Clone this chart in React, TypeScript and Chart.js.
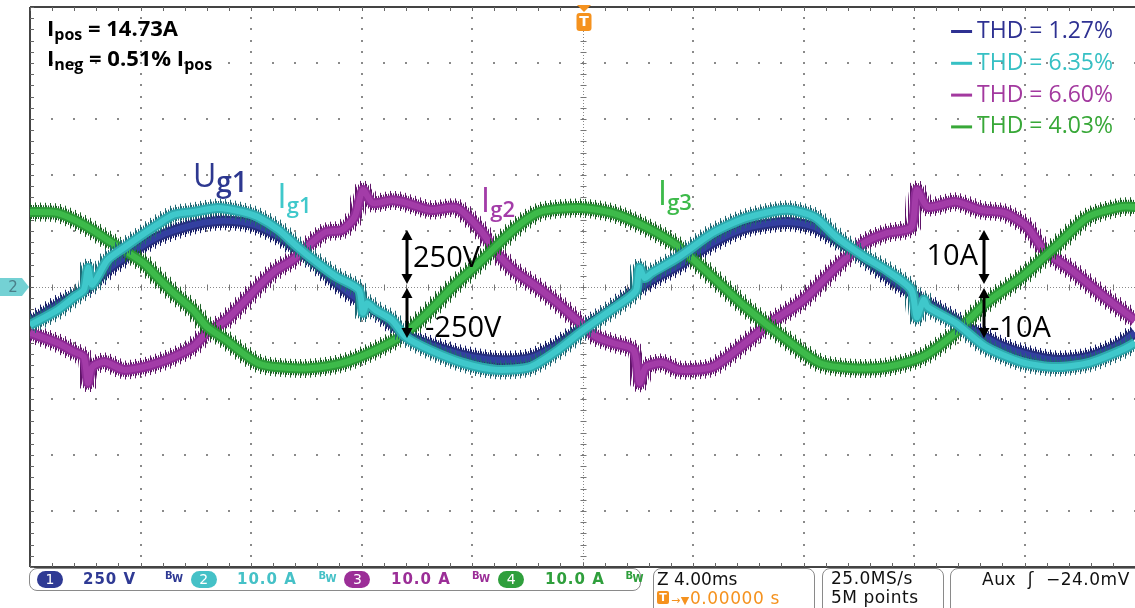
import React, { useEffect, useRef } from "react";
import { Chart, registerables } from "chart.js";

Chart.register(...registerables);

// ---- Oscilloscope settings ----
const msPerDiv = 4;
const timeStart = -20;
const timeEnd = 20;
const halfDivs = 5;

const ug1VoltsPerDiv = 250;
const ig1AmpsPerDiv = 10;
const ig2AmpsPerDiv = 10;
const ig3AmpsPerDiv = 10;

// ---- Ug1 : grid voltage (V) ----
const ug1Time = [-20, -19, -17.9, -17.2, -16.6, -15.4, -14.1, -13.2, -12.3, -11.75, -11.0, -10.3, -9.6, -8.9, -8.1, -7.3, -6.4, -5.5, -4.3, -3.1, -1.9, -0.9, -0.1, 0.9, 1.7, 2.5, 3.5, 4.7, 5.9, 7.4, 8.4, 9.2, 10.2, 11.0, 11.9, 12.9, 14.0, 15.1, 16.2, 17.25, 18.3, 19.4, 20];
const ug1Volts = [-160, -80, -4, 76, 129, 223, 277, 295, 290, 272, 228, 165, 98, 18, -58, -125, -214, -259, -304, -326, -317, -259, -192, -112, -36, 31, 98, 196, 263, 290, 268, 210, 129, 54, -27, -103, -183, -259, -304, -326, -312, -259, -205];

// ---- Ig1 : phase-1 current (A) ----
const ig1Time = [-20, -19, -18.4, -18.05, -17.9, -17.75, -17.2, -16.6, -15.4, -14.8, -14.1, -13.2, -12.3, -11.75, -11.0, -10.3, -9.6, -8.9, -8.1, -7.95, -7.8, -7.5, -6.9, -6.4, -5.5, -4.3, -3.1, -1.9, -0.9, -0.1, 0.9, 1.7, 1.95, 2.06, 2.25, 2.5, 3.5, 4.7, 5.9, 7.4, 8.4, 9.2, 10.2, 11.0, 11.9, 12.1, 12.35, 12.5, 13.5, 14.6, 15.9, 17.1, 18.3, 19.5, 20];
const ig1Amps = [-6.8, -4.1, -1.8, -0.5, 3.4, 0.4, 4.8, 7.0, 11.1, 12.9, 13.4, 14.1, 13.4, 12.5, 10.2, 7.1, 4.3, 1.8, -0.5, -4.6, -2.9, -4.1, -5.9, -8.9, -11.3, -13.6, -14.8, -14.3, -11.3, -8.2, -4.6, -1.8, -0.5, 3.4, 1.6, 2.5, 5.4, 9.6, 12.3, 13.8, 12.5, 8.9, 5.4, 3.0, -0.5, -5.4, -2.3, -3.6, -6.4, -10.7, -13.4, -14.3, -13.6, -11.3, -10.0];

// ---- Ig2 : phase-2 current (A) ----
const ig2Time = [-20, -19, -18.4, -18.05, -17.9, -17.75, -17.3, -16.6, -15.9, -15.4, -14.8, -14.1, -13.6, -12.9, -12.3, -11.75, -11.1, -10.5, -9.9, -9.3, -8.7, -8.25, -7.95, -7.6, -6.9, -6.5, -5.5, -4.55, -3.7, -3.1, -2.5, -1.65, -0.9, -0.1, 0.5, 1.1, 1.85, 2.06, 2.3, 2.9, 3.5, 4.7, 5.9, 6.8, 8.0, 9.2, 10.2, 11.0, 11.9, 12.1, 12.5, 13.5, 14.4, 15.3, 16.1, 16.7, 17.7, 18.9, 20];
const ig2Amps = [-8.2, -10.0, -11.6, -12.5, -17.1, -14.3, -13.4, -14.8, -14.3, -13.6, -12.5, -10.7, -8.2, -5.9, -2.9, 0, 3.0, 4.8, 7.5, 9.8, 10.2, 12.5, 17.3, 15.0, 15.5, 15.2, 13.75, 14.1, 10.2, 6.1, 3.0, 0, -2.9, -6.4, -8.9, -10.0, -11.3, -17.1, -14.3, -13.6, -14.8, -14.3, -10.0, -6.4, -2.3, 3.6, 7.9, 9.6, 10.7, 17.3, 14.3, 15.2, 13.75, 13.2, 10.7, 6.6, 3.0, -1.8, -5.9];

// ---- Ig3 : phase-3 current (A) ----
const ig3Time = [-20, -19, -18.4, -17.75, -17.2, -16.6, -15.9, -15.4, -14.8, -14.1, -13.6, -12.9, -12.3, -11.75, -11.1, -9.9, -8.7, -7.5, -6.4, -5.5, -4.7, -3.7, -2.5, -1.55, -0.1, 1.1, 2.3, 3.5, 4.7, 5.9, 7.4, 8.6, 9.8, 11.0, 12.3, 13.5, 14.6, 15.9, 17.1, 18.3, 19.5, 20];
const ig3Amps = [13.4, 13.2, 12.0, 10.2, 8.4, 6.6, 4.3, 1.8, -1.1, -4.1, -7.1, -9.5, -11.8, -13.6, -14.3, -14.5, -13.6, -11.3, -8.2, -4.1, 0, 4.5, 10.2, 13.4, 14.1, 13.2, 10.7, 7.1, 1.8, -3.6, -9.5, -13.6, -14.5, -14.3, -12.5, -8.2, -2.9, 1.8, 7.1, 12.5, 14.3, 14.3];

// ---- Text content ----
const thdLabels = ["THD = 1.27%", "THD = 6.35%", "THD = 6.60%", "THD = 4.03%"];
const thdColors = ["#2e3192", "#36c0c4", "#a3399f", "#38a838"];
const iposValue = "14.73A";
const inegValue = "0.51%";
const scaleArrowLabels = [["250V", "-250V"], ["10A", "-10A"]];
const scaleArrowTimes = [-6.35, 14.55];

const statusChannels = [
  { num: "1", scale: "250 V", color: "#2f3a94" },
  { num: "2", scale: "10.0 A", color: "#45c1c7" },
  { num: "3", scale: "10.0 A", color: "#9b2e97" },
  { num: "4", scale: "10.0 A", color: "#2f9f3c" },
];

const NAVY = "#2d3890";
const CYAN = "#3fc8cb";
const MAGENTA = "#a33ca8";
const GREEN = "#3dba4a";
const ORANGE = "#f5921e";

const FONT = "'Open Sans', 'DejaVu Sans', sans-serif";

type Run = { text: string; font: string; dy?: number };

function drawRuns(ctx: CanvasRenderingContext2D, x: number, y: number, runs: Run[], align: "left" | "right" = "left") {
  let w = 0;
  for (const r of runs) {
    ctx.font = r.font;
    w += ctx.measureText(r.text).width;
  }
  let cx = align === "right" ? x - w : x;
  ctx.textAlign = "left";
  for (const r of runs) {
    ctx.font = r.font;
    ctx.fillText(r.text, cx, y + (r.dy || 0));
    cx += ctx.measureText(r.text).width;
  }
  return w;
}

function drawDoubleArrow(ctx: CanvasRenderingContext2D, x: number, yTop: number, yBot: number) {
  const head = 10;
  const hw = 5.5;
  ctx.strokeStyle = "#000";
  ctx.fillStyle = "#000";
  ctx.lineWidth = 3;
  ctx.beginPath();
  ctx.moveTo(x, yTop + head - 1);
  ctx.lineTo(x, yBot - head + 1);
  ctx.stroke();
  ctx.beginPath();
  ctx.moveTo(x, yTop);
  ctx.lineTo(x - hw, yTop + head);
  ctx.lineTo(x + hw, yTop + head);
  ctx.closePath();
  ctx.fill();
  ctx.beginPath();
  ctx.moveTo(x, yBot);
  ctx.lineTo(x - hw, yBot - head);
  ctx.lineTo(x + hw, yBot - head);
  ctx.closePath();
  ctx.fill();
}

const scopePlugin = {
  id: "scopeGraticule",
  beforeDatasetsDraw(chart: any) {
    const ctx: CanvasRenderingContext2D = chart.ctx;
    const xs = chart.scales.x;
    const ys = chart.scales.y;
    const { left, right, top, bottom } = chart.chartArea;
    const xMinor = msPerDiv / 5;
    const yMinor = 0.2;
    ctx.save();
    ctx.fillStyle = "#8a8a8a";
    for (let t = timeStart + msPerDiv; t < timeEnd - 0.01; t += msPerDiv) {
      if (Math.abs(t) < 0.01) continue;
      const px = Math.round(xs.getPixelForValue(t));
      for (let v = -halfDivs; v <= halfDivs + 0.001; v += yMinor) {
        const py = Math.round(ys.getPixelForValue(v));
        ctx.fillRect(px - 1, py - 1, 2, 2);
      }
    }
    for (let d = -halfDivs + 1; d < halfDivs; d++) {
      if (d === 0) continue;
      const py = Math.round(ys.getPixelForValue(d));
      for (let t = timeStart; t <= timeEnd + 0.001; t += xMinor) {
        const px = Math.round(xs.getPixelForValue(t));
        ctx.fillRect(px - 1, py - 1, 2, 2);
      }
    }
    const cx = Math.round(xs.getPixelForValue(0)) + 0.5;
    const cy = Math.round(ys.getPixelForValue(0)) + 0.5;
    ctx.strokeStyle = "#8a8a8a";
    ctx.lineWidth = 1;
    ctx.setLineDash([1, 2]);
    ctx.beginPath();
    ctx.moveTo(left, cy);
    ctx.lineTo(right, cy);
    ctx.moveTo(cx, top);
    ctx.lineTo(cx, bottom);
    ctx.stroke();
    ctx.setLineDash([]);
    ctx.strokeStyle = "#777";
    ctx.beginPath();
    for (let t = timeStart; t <= timeEnd + 0.001; t += xMinor) {
      const px = Math.round(xs.getPixelForValue(t)) + 0.5;
      ctx.moveTo(px, cy - 3);
      ctx.lineTo(px, cy + 3);
    }
    for (let v = -halfDivs; v <= halfDivs + 0.001; v += yMinor) {
      const py = Math.round(ys.getPixelForValue(v)) + 0.5;
      ctx.moveTo(cx - 3, py);
      ctx.lineTo(cx + 3, py);
    }
    ctx.stroke();
    ctx.strokeStyle = "#444";
    ctx.lineWidth = 2;
    ctx.beginPath();
    ctx.moveTo(left, top);
    ctx.lineTo(right, top);
    ctx.moveTo(left, top);
    ctx.lineTo(left, bottom);
    ctx.moveTo(left, bottom);
    ctx.lineTo(right, bottom);
    ctx.stroke();
    ctx.lineWidth = 1;
    ctx.strokeStyle = "#666";
    ctx.beginPath();
    for (let t = timeStart; t <= timeEnd + 0.001; t += xMinor) {
      const px = Math.round(xs.getPixelForValue(t)) + 0.5;
      ctx.moveTo(px, top);
      ctx.lineTo(px, top + 4);
      ctx.moveTo(px, bottom);
      ctx.lineTo(px, bottom - 4);
    }
    for (let v = -halfDivs; v <= halfDivs + 0.001; v += yMinor) {
      const py = Math.round(ys.getPixelForValue(v)) + 0.5;
      ctx.moveTo(left, py);
      ctx.lineTo(left + 4, py);
    }
    ctx.stroke();
    ctx.restore();
  },
  afterDatasetsDraw(chart: any) {
    const ctx: CanvasRenderingContext2D = chart.ctx;
    const xs = chart.scales.x;
    const ys = chart.scales.y;
    const { left, top, right } = chart.chartArea;
    ctx.save();
    ctx.textBaseline = "alphabetic";

    scaleArrowTimes.forEach((t, i) => {
      const px = Math.round(xs.getPixelForValue(t));
      const y1 = ys.getPixelForValue(1);
      const y0 = ys.getPixelForValue(0);
      const ym = ys.getPixelForValue(-1);
      drawDoubleArrow(ctx, px, y1 - 1, y0 - 3);
      drawDoubleArrow(ctx, px, y0 + 1, ym - 5);
      ctx.fillStyle = "#000";
      ctx.font = `400 29px ${FONT}`;
      const [lblUp, lblDown] = scaleArrowLabels[i];
      if (i === 0) {
        ctx.fillText(lblUp, px + 6, y0 - 20);
      } else {
        ctx.textAlign = "right";
        ctx.fillText(lblUp, px - 6, y0 - 22);
        ctx.textAlign = "left";
      }
      ctx.fillText(lblDown, px + (i === 0 ? 18 : 6), ym - 6);
    });

    const traceLabels = [
      { main: "U", sub: "g1", t: -14.1, d: 1.79, color: NAVY, size: 32, subSize: 28 },
      { main: "I", sub: "g1", t: -11.05, d: 1.41, color: CYAN, size: 34, subSize: 22 },
      { main: "I", sub: "g2", t: -3.68, d: 1.34, color: MAGENTA, size: 34, subSize: 22 },
      { main: "I", sub: "g3", t: 2.72, d: 1.46, color: GREEN, size: 34, subSize: 22 },
    ];
    traceLabels.forEach((lb) => {
      ctx.fillStyle = lb.color;
      const x = xs.getPixelForValue(lb.t);
      const y = ys.getPixelForValue(lb.d);
      drawRuns(ctx, x, y, [
        { text: lb.main, font: `400 ${lb.size}px ${FONT}` },
        { text: lb.sub, font: `600 ${lb.subSize}px ${FONT}`, dy: 5 },
      ]);
    });

    ctx.fillStyle = "#000";
    const big = `700 22px ${FONT}`;
    const sml = `700 16px ${FONT}`;
    drawRuns(ctx, left + 17, top + 29, [
      { text: "I", font: big },
      { text: "pos", font: sml, dy: 4 },
      { text: " = " + iposValue, font: big },
    ]);
    drawRuns(ctx, left + 17, top + 59, [
      { text: "I", font: big },
      { text: "neg", font: sml, dy: 4 },
      { text: " = " + inegValue + " I", font: big },
      { text: "pos", font: sml, dy: 4 },
    ]);

    thdLabels.forEach((txt, i) => {
      const yb = top + 31 + i * 31.8;
      ctx.fillStyle = thdColors[i];
      ctx.font = `400 23px ${FONT}`;
      ctx.textAlign = "right";
      ctx.fillText(txt, right - 22, yb);
      const w = ctx.measureText(txt).width;
      ctx.textAlign = "left";
      ctx.fillRect(right - 22 - w - 26, yb - 8, 21, 3);
    });
    ctx.restore();
  },
  afterDraw(chart: any) {
    const ctx: CanvasRenderingContext2D = chart.ctx;
    const xs = chart.scales.x;
    const ys = chart.scales.y;
    const { left, top } = chart.chartArea;
    const cx = xs.getPixelForValue(0) + 1.5;
    const cy = ys.getPixelForValue(0);
    ctx.save();
    ctx.fillStyle = ORANGE;
    ctx.beginPath();
    ctx.moveTo(cx - 7, top - 2);
    ctx.lineTo(cx + 7, top - 2);
    ctx.lineTo(cx, top + 5);
    ctx.closePath();
    ctx.fill();
    ctx.beginPath();
    ctx.roundRect(cx - 7.5, top + 6, 15, 18, 3);
    ctx.fill();
    ctx.fillStyle = "#fff";
    ctx.font = `700 14px 'DejaVu Sans', sans-serif`;
    ctx.textAlign = "center";
    ctx.textBaseline = "middle";
    ctx.fillText("T", cx, top + 15);
    ctx.fillStyle = "#74d1d4";
    ctx.beginPath();
    ctx.moveTo(0, cy - 9);
    ctx.lineTo(left - 8, cy - 9);
    ctx.lineTo(left - 1, cy);
    ctx.lineTo(left - 8, cy + 9);
    ctx.lineTo(0, cy + 9);
    ctx.closePath();
    ctx.fill();
    ctx.fillStyle = "#4b7f8a";
    ctx.font = `400 15px 'DejaVu Sans', sans-serif`;
    ctx.fillText("2", 13, cy + 1);
    ctx.restore();
  },
};

function stripePattern(color: string, period: number, cols: number[]) {
  const c = document.createElement("canvas");
  c.width = period;
  c.height = 1;
  const g = c.getContext("2d")!;
  g.fillStyle = color;
  cols.forEach((k) => g.fillRect(k, 0, 1, 1));
  return g.createPattern(c, "repeat")!;
}

export default function App() {
  const ref = useRef<HTMLCanvasElement>(null);
  useEffect(() => {
    const canvas = ref.current!;
    const traces = [
      { time: ig1Time, values: ig1Amps, perDiv: ig1AmpsPerDiv, core: CYAN, edge: "#2ea9ae", hair: "#1f6874" },
      { time: ig3Time, values: ig3Amps, perDiv: ig3AmpsPerDiv, core: GREEN, edge: "#2c9a38", hair: "#1a6024" },
      { time: ig2Time, values: ig2Amps, perDiv: ig2AmpsPerDiv, core: MAGENTA, edge: "#8e2c96", hair: "#5e1468" },
      { time: ug1Time, values: ug1Volts, perDiv: ug1VoltsPerDiv, core: "#3340a0", edge: "#28307f", hair: "#161c66" },
    ];
    const datasets: any[] = [];
    traces.forEach((tr, i) => {
      const data = tr.time.map((t, k) => ({ x: t, y: tr.values[k] / tr.perDiv }));
      const common = {
        data,
        pointRadius: 0,
        tension: 0.25,
        borderCapStyle: "butt",
        borderJoinStyle: "round",
        fill: false,
        clip: 0,
      };
      datasets.push({ ...common, borderColor: tr.core, borderWidth: 6, order: i * 4 });
      datasets.push({ ...common, borderColor: tr.edge, borderWidth: 10, order: i * 4 + 1 });
      datasets.push({ ...common, borderColor: stripePattern(tr.hair, 5, [1, 3]), borderWidth: 14, order: i * 4 + 2 });
      datasets.push({ ...common, borderColor: stripePattern(tr.hair, 5, [0]), borderWidth: 19, order: i * 4 + 3 });
    });
    const chart = new Chart(canvas, {
      type: "line",
      data: { datasets },
      options: {
        animation: false,
        responsive: false,
        events: [],
        layout: { padding: { left: 30, top: 7, right: 0, bottom: 41 } },
        scales: {
          x: { type: "linear", min: timeStart, max: timeEnd, display: false },
          y: { type: "linear", min: -halfDivs, max: halfDivs, display: false },
        },
        plugins: { legend: { display: false }, tooltip: { enabled: false }, title: { display: false } },
      },
      plugins: [scopePlugin],
    } as any);
    return () => chart.destroy();
  }, []);

  const sb = "'DejaVu Sans', sans-serif";
  return (
    <div style={{ position: "absolute", left: 0, top: 0, width: 1135, height: 608, overflow: "hidden", background: "#fff" }}>
      <canvas ref={ref} width={1135} height={608} style={{ position: "absolute", left: 0, top: 0 }} />
      <div style={{ position: "absolute", left: 29, top: 568, width: 610, height: 21, border: "1.5px solid #8a8a8a", borderRadius: 8 }} />
      {statusChannels.map((c, i) => (
        <React.Fragment key={c.num}>
          <div style={{ position: "absolute", left: 37 + i * 153.7, top: 571, width: 26, height: 17, borderRadius: 9, background: c.color, color: "#fff", font: `400 14px ${sb}`, lineHeight: "17px", textAlign: "center" }}>{c.num}</div>
          <div style={{ position: "absolute", left: 83 + i * 154, top: 570, color: c.color, font: `700 15px ${sb}`, letterSpacing: 1, lineHeight: "19px", whiteSpace: "pre" }}>{c.scale}</div>
          <div style={{ position: "absolute", left: 165 + i * 153.5, top: 571, color: c.color, font: `700 10px ${sb}`, lineHeight: "10px" }}>
            B<span style={{ position: "relative", top: 3 }}>W</span>
          </div>
        </React.Fragment>
      ))}
      <div style={{ position: "absolute", left: 653, top: 568, width: 160, height: 50, border: "1.5px solid #8a8a8a", borderRadius: 8 }} />
      <div style={{ position: "absolute", left: 657, top: 569, font: `400 17px ${sb}`, color: "#111", whiteSpace: "pre" }}>Z 4.00ms</div>
      <div style={{ position: "absolute", left: 657, top: 591, width: 12, height: 13, background: ORANGE, borderRadius: 2, color: "#fff", font: `700 11px ${sb}`, lineHeight: "13px", textAlign: "center" }}>T</div>
      <div style={{ position: "absolute", left: 671, top: 588, font: `400 17px ${sb}`, color: ORANGE, whiteSpace: "pre", letterSpacing: 0.6 }}>
        <span style={{ fontSize: 11 }}>→▼</span>0.00000 s
      </div>
      <div style={{ position: "absolute", left: 822, top: 568, width: 120, height: 50, border: "1.5px solid #8a8a8a", borderRadius: 8 }} />
      <div style={{ position: "absolute", left: 831, top: 569, font: `400 17px ${sb}`, color: "#111", whiteSpace: "pre", lineHeight: "19px", letterSpacing: 0.5 }}>
        25.0MS/s
        <br />
        5M points
      </div>
      <div style={{ position: "absolute", left: 950, top: 568, width: 200, height: 50, border: "1.5px solid #8a8a8a", borderRadius: 8 }} />
      <div style={{ position: "absolute", left: 982, top: 569, font: `400 17px ${sb}`, color: "#111", whiteSpace: "pre", letterSpacing: 0.5, wordSpacing: 6 }}>Aux ʃ −24.0mV</div>
    </div>
  );
}
